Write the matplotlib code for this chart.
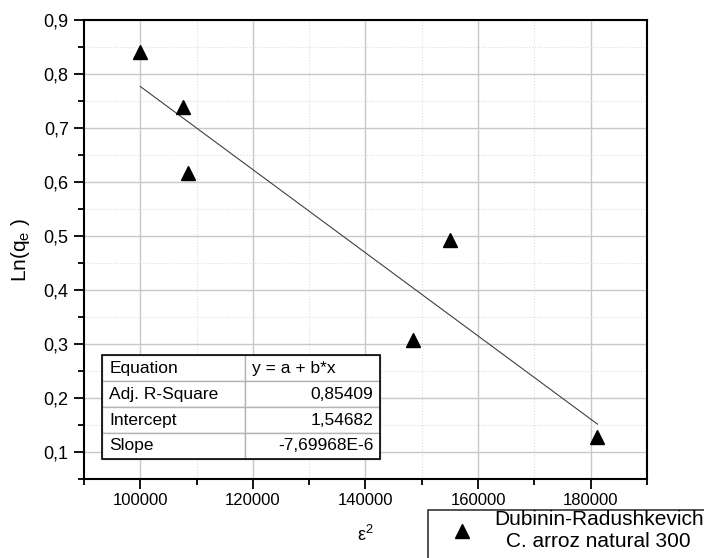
import numpy as np
import matplotlib
matplotlib.use("Agg")
from matplotlib import pyplot as plt
from matplotlib.ticker import MultipleLocator, FuncFormatter
from matplotlib.patches import Rectangle

plt.rcParams['font.family'] = ['Liberation Sans', 'DejaVu Sans']

# data
eps2 = [100000, 107500, 108500, 148500, 155000, 181200]
lnq = [0.840, 0.738, 0.617, 0.307, 0.492, 0.127]

# linear fit parameters (as printed in the table)
intercept = 1.54682
slope = -7.69968E-6
fit_x = [100000, 181200]

table_rows = [["Equation", "y = a + b*x"],
              ["Adj. R-Square", "0,85409"],
              ["Intercept", "1,54682"],
              ["Slope", "-7,69968E-6"]]

fig = plt.figure(figsize=(7.04, 5.58), dpi=100)
ax = fig.add_axes([0.1193, 0.1416, 0.7997, 0.8226])

ax.plot(eps2, lnq, ls='none', marker='^', ms=10, color='black', zorder=4,
        label="Dubinin-Radushkevich\nC. arroz natural 300")
fx = np.array(fit_x)
ax.plot(fx, intercept + slope * fx, color='#404040', lw=0.8, zorder=3)

ax.set_xlim(90000, 190000)
ax.set_ylim(0.05, 0.9)
ax.xaxis.set_major_locator(MultipleLocator(20000))
ax.xaxis.set_minor_locator(MultipleLocator(10000))
ax.yaxis.set_major_locator(MultipleLocator(0.1))
ax.yaxis.set_minor_locator(MultipleLocator(0.05))
ax.yaxis.set_major_formatter(FuncFormatter(lambda v, p: ("%.1f" % v).replace('.', ',')))
ax.xaxis.set_major_formatter(FuncFormatter(lambda v, p: "%d" % v))

ax.grid(which='major', color='#c8c8c8', lw=1.0, ls='-')
ax.grid(which='minor', color='#dcdcdc', lw=0.8, ls=':')
ax.set_axisbelow(True)

ax.tick_params(which='major', direction='out', length=7, width=1.3, labelsize=12, pad=3)
ax.tick_params(axis='y', which='major', labelsize=13, pad=4)
ax.tick_params(which='minor', direction='out', length=4, width=1.3)
for s in ax.spines.values():
    s.set_linewidth(1.5)
    s.set_color('black')

ax.set_ylabel(r"Ln(q$_\mathregular{e}$ )", fontsize=15, labelpad=8)
ax.set_xlabel(r"$\mathregular{\varepsilon^2}$", fontsize=13, labelpad=12)

# fit result table
tbl = ax.table(cellText=table_rows, cellLoc='left', colWidths=[0.514, 0.486],
               bbox=[0.032, 0.0436, 0.494, 0.2264], zorder=5)
tbl.auto_set_font_size(False)
for (r, c), cell in tbl.get_celld().items():
    cell.set_edgecolor('#b4b4b4')
    cell.set_linewidth(1.0)
    cell.PAD = 0.05
    cell.get_text().set_fontsize(12.5)
    if c == 1 and r > 0:
        cell.get_text().set_ha('right')
        cell._loc = 'right'
ax.add_patch(Rectangle((0.032, 0.0436), 0.494, 0.2264, transform=ax.transAxes,
                       fill=False, ec='black', lw=1.2, zorder=6))

# legend box runs off the bottom right corner of the figure
fig.add_artist(Rectangle((428 / 704, -0.05), 0.5, 1 - 510 / 558 + 0.05,
                         transform=fig.transFigure, fill=False,
                         ec='#333333', lw=1.2))
leg = fig.legend(loc='upper left', bbox_to_anchor=(446 / 704, 1 - 510 / 558),
                 fontsize=15, frameon=False, borderpad=0, handletextpad=0.8,
                 handlelength=1.5, borderaxespad=0, labelspacing=0.1)
for t in leg.get_texts():
    t.set_multialignment('center')
    t.set_linespacing(1.2)

fig.savefig("out.png", dpi=100)
